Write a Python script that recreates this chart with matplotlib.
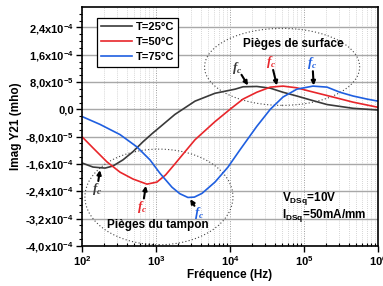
import numpy as np
import matplotlib
matplotlib.use('Agg')
import matplotlib.pyplot as plt
from matplotlib.patches import Ellipse
from matplotlib.ticker import FixedLocator, LogLocator, NullFormatter

plt.rcParams['font.family'] = 'Liberation Sans'
plt.rcParams['font.weight'] = 'bold'
plt.rcParams['mathtext.fontset'] = 'custom'
plt.rcParams['mathtext.rm'] = 'Liberation Sans:bold'
plt.rcParams['mathtext.bf'] = 'Liberation Sans:bold'
plt.rcParams['mathtext.it'] = 'Liberation Serif:italic:bold'
plt.rcParams['mathtext.default'] = 'bf'

# Data
freq_25 = [100, 141, 205, 262, 358, 489, 667, 910, 1130, 1800, 3370, 6270,
           11700, 15000, 23000, 35000, 52000, 80000, 120000, 205000, 460000, 1000000]
imag_25 = [-1.57e-4, -1.69e-4, -1.72e-4, -1.66e-4, -1.48e-4, -1.24e-4, -9.5e-5,
           -6.9e-5, -5.2e-5, -1.5e-5, 2.4e-5, 4.7e-5, 5.9e-5, 6.6e-5, 6.7e-5,
           6.2e-5, 5.0e-5, 3.9e-5, 2.8e-5, 1.4e-5, 3e-6, -2e-6]

freq_50 = [100, 141, 218, 327, 489, 755, 1030, 1350, 1800, 2470, 3370, 6270, 10000,
           15000, 23000, 35000, 52000, 80000, 120000, 247000, 460000, 1000000]
imag_50 = [-8.0e-5, -1.13e-4, -1.54e-4, -1.84e-4, -2.04e-4, -2.19e-4, -2.13e-4,
           -1.92e-4, -1.60e-4, -1.24e-4, -8.9e-5, -3.6e-5, 0.0, 3.0e-5, 5.0e-5,
           6.5e-5, 6.8e-5, 6.3e-5, 5.3e-5, 3.6e-5, 2.1e-5, 6e-6]

freq_75 = [100, 175, 327, 553, 830, 1130, 1645, 2100, 2700, 3300, 4190, 6270, 9400,
           13600, 23000, 35000, 52000, 80000, 132000, 205000, 306000, 460000,
           710000, 1000000]
imag_75 = [-2.1e-5, -4.4e-5, -7.4e-5, -1.10e-4, -1.48e-4, -1.87e-4, -2.28e-4,
           -2.47e-4, -2.58e-4, -2.57e-4, -2.46e-4, -2.13e-4, -1.69e-4, -1.19e-4,
           -5.0e-5, 0.0, 3.6e-5, 5.9e-5, 6.8e-5, 6.5e-5, 5.0e-5, 3.9e-5, 3.0e-5,
           2.4e-5]

series_labels = ['T=25°C', 'T=50°C', 'T=75°C']
series_colors = ['#3a3a3a', '#e8262b', '#1f5fe0']

ytick_values = [2.4e-4, 1.6e-4, 8.0e-5, 0.0, -8.0e-5, -1.6e-4, -2.4e-4, -3.2e-4, -4.0e-4]
ytick_labels = [r'2,4x10$^{-4}$', r'1,6x10$^{-4}$', r'8,0x10$^{-5}$', '0,0',
                r'-8,0x10$^{-5}$', r'-1,6x10$^{-4}$', r'-2,4x10$^{-4}$',
                r'-3,2x10$^{-4}$', r'-4,0x10$^{-4}$']

fig = plt.figure(figsize=(3.83, 2.86), dpi=100)
ax = fig.add_axes([0.214, 0.140, 0.773, 0.836])

ax.set_xscale('log')
ax.set_xlim(1e2, 1e6)
ax.set_ylim(-4.0e-4, 3.0e-4)

# grid
ax.yaxis.set_major_locator(FixedLocator(ytick_values))
ax.set_yticklabels(ytick_labels)
ax.yaxis.set_minor_locator(FixedLocator(np.arange(-4.0e-4, 3.0e-4, 2e-5)))
ax.xaxis.set_minor_locator(LogLocator(base=10, subs=np.arange(2, 10)))
ax.xaxis.set_minor_formatter(NullFormatter())
ax.grid(True, axis='y', which='major', color='#a8a8a8', lw=1.0, ls='-')
ax.grid(True, axis='x', which='major', color='#9a9a9a', lw=0.7, ls=(0, (1, 1.5)))
ax.grid(True, axis='x', which='minor', color='#c8c8c8', lw=0.6, ls=(0, (1, 1.5)))
ax.set_axisbelow(True)

for f, v, lab, c in zip([freq_25, freq_50, freq_75], [imag_25, imag_50, imag_75],
                        series_labels, series_colors):
    ax.plot(f, v, color=c, lw=1.2, label=lab)

ax.tick_params(axis='both', which='major', labelsize=8, length=4, width=1.0,
               direction='out', pad=2)
ax.tick_params(axis='y', which='minor', length=2, width=0.8, direction='out')
ax.tick_params(axis='x', which='minor', length=2, width=0.8, direction='in')
for sp in ax.spines.values():
    sp.set_linewidth(1.2)

ax.set_xlabel('Fréquence (Hz)', fontsize=8.5, fontweight='bold', labelpad=1)
ax.set_ylabel('Imag Y21 (mho)', fontsize=8.5, fontweight='bold', labelpad=2)

leg = ax.legend(loc='upper left', bbox_to_anchor=(0.05, 0.955), borderaxespad=0,
                fontsize=8, frameon=True, fancybox=False, handlelength=2.8,
                handletextpad=0.3, labelspacing=0.45, borderpad=0.4)
leg.get_frame().set_edgecolor('black')
leg.get_frame().set_linewidth(0.9)
leg.get_frame().set_alpha(1)

# dotted ellipses
ax.add_patch(Ellipse((0.676, 0.749), 0.524, 0.322, transform=ax.transAxes,
                     fill=False, ls=(0, (1, 2)), lw=0.8, ec='#444444'))
ax.add_patch(Ellipse((0.26, 0.205), 0.50, 0.40, transform=ax.transAxes,
                     fill=False, ls=(0, (1, 2)), lw=0.8, ec='#444444', clip_on=True))

ax.text(0.713, 0.843, 'Pièges de surface', transform=ax.transAxes, fontsize=8.5,
        fontweight='bold', ha='center', va='center')
ax.text(0.255, 0.088, 'Pièges du tampon', transform=ax.transAxes, fontsize=8.5,
        fontweight='bold', ha='center', va='center')

ax.text(0.675, 0.200, r'V$_{DSq}$=10V', transform=ax.transAxes, fontsize=8.5,
        fontweight='bold', ha='left', va='center')
ax.text(0.675, 0.128, r'I$_{DSq}$=50mA/mm', transform=ax.transAxes, fontsize=8.5,
        fontweight='bold', ha='left', va='center')

# f_c markers
fc_text = r'$\mathit{f}_{\mathit{c}}$'
fc_marks = [
    ((12500, 1.22e-4), (17500, 7.0e-5), series_colors[0]),
    ((36000, 1.39e-4), (43000, 7.0e-5), series_colors[1]),
    ((130000, 1.36e-4), (135000, 7.0e-5), series_colors[2]),
    ((160, -2.34e-4), (175, -1.78e-4), series_colors[0]),
    ((660, -2.85e-4), (730, -2.24e-4), series_colors[1]),
    ((3800, -3.03e-4), (2900, -2.63e-4), series_colors[2]),
]
for (tx, ty), (px, py), c in fc_marks:
    ax.annotate(fc_text, xy=(px, py), xytext=(tx, ty), color=c, fontsize=9.5,
                ha='center', va='center',
                arrowprops=dict(arrowstyle='-|>', color='black', lw=1.5,
                                mutation_scale=6, patchA=None, shrinkA=6,
                                shrinkB=0))

fig.savefig('out.png', dpi=100)
